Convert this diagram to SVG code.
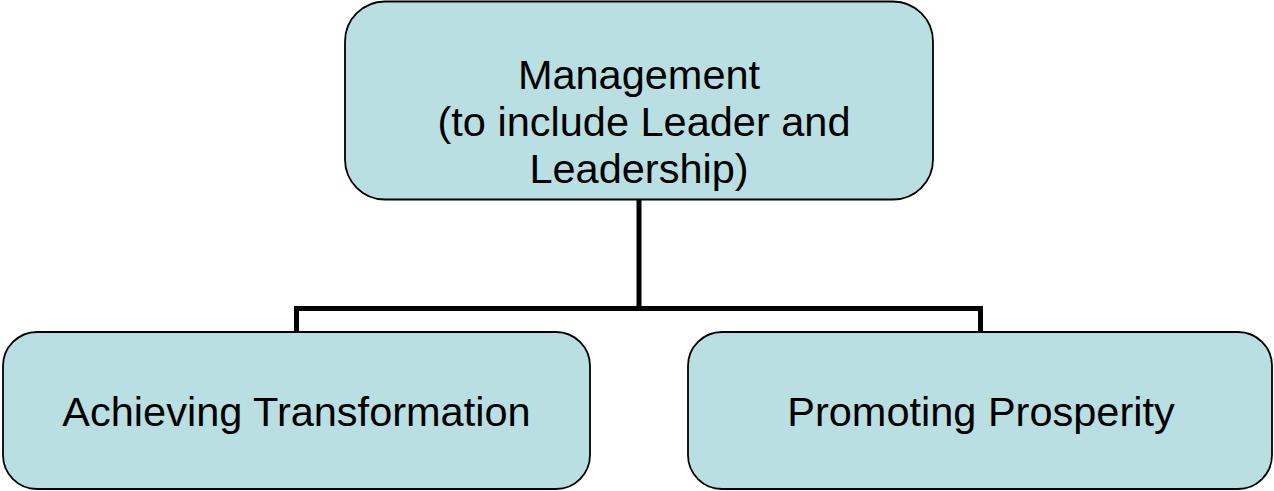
<svg xmlns="http://www.w3.org/2000/svg" width="1274" height="491" viewBox="0 0 1274 491">
<style>
.box{fill:#b9dfe2;stroke:#000;stroke-width:1.8}
.lbl{font-family:"Liberation Sans",Arial,sans-serif;font-size:41.5px;fill:#000;text-anchor:middle}
.conn{fill:none;stroke:#000;stroke-width:5;stroke-linejoin:miter}
</style>
<rect width="1274" height="491" fill="#fff"/>
<g id="connectors">
<path class="conn" d="M639 200 V308.5 M296.5 332 V308.5 H980.5 V332"/>
</g>
<g id="node-management">
<rect class="box" x="345" y="1.5" width="588" height="198" rx="40" ry="40"/>
<text class="lbl" x="639" y="89">Management</text>
<text class="lbl" x="644" y="136">(to include Leader and</text>
<text class="lbl" x="639" y="183">Leadership)</text>
</g>
<g id="node-achieving">
<rect class="box" x="3" y="332" width="587" height="157" rx="34" ry="34"/>
<text class="lbl" x="296.5" y="426">Achieving Transformation</text>
</g>
<g id="node-promoting">
<rect class="box" x="688" y="332" width="584" height="157" rx="34" ry="34"/>
<text class="lbl" x="981" y="426">Promoting Prosperity</text>
</g>
</svg>
